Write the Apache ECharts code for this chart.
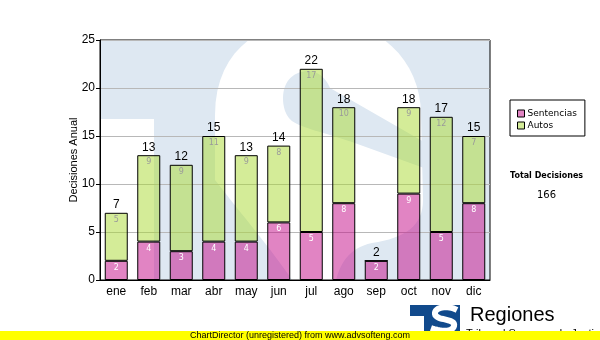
<!DOCTYPE html>
<html>
<head>
<meta charset="utf-8">
<title>Decisiones Anual</title>
<script src="https://cdn.jsdelivr.net/npm/echarts@6/dist/echarts.min.js"></script>
<style>
  html, body { margin: 0; padding: 0; background: #fff; }
  #chart { width: 600px; height: 340px; }
</style>
</head>
<body>
<div id="chart"></div>
<script>
// Monthly decisions, split by type
const categories = ['ene', 'feb', 'mar', 'abr', 'may', 'jun', 'jul', 'ago', 'sep', 'oct', 'nov', 'dic'];
const sentencias = [2, 4, 3, 4, 4, 6, 5, 8, 2, 9, 5, 8];
const autos = [5, 9, 9, 11, 9, 8, 17, 10, 0, 9, 12, 7];
const yMin = 0, yMax = 25, yStep = 5;

// Stack totals shown above each bar, and the grand total in the side panel
const totals = categories.map((_, i) => sentencias[i] + autos[i]);
const grandTotal = totals.reduce((a, b) => a + b, 0);

const SANS = 'Liberation Sans, Arial, sans-serif';
const SMALL = 'DejaVu Sans, Verdana, sans-serif';

const PLOT = { left: 100, top: 40, width: 390, height: 240 };
const WATER_BLUE = '#dee8f2';
const LOGO_BLUE = '#114a8c';

// Turn a list of M / L / C commands into polygon vertices (cubic curves sampled)
function outline(cmds) {
  const pts = [];
  let cx = 0, cy = 0;
  cmds.forEach(c => {
    if (c[0] === 'M' || c[0] === 'L') {
      cx = c[1]; cy = c[2]; pts.push([cx, cy]);
    } else if (c[0] === 'C') {
      const [, x1, y1, x2, y2, x, y] = c;
      for (let k = 1; k <= 16; k++) {
        const t = k / 16, u = 1 - t;
        pts.push([
          u * u * u * cx + 3 * u * u * t * x1 + 3 * u * t * t * x2 + t * t * t * x,
          u * u * u * cy + 3 * u * u * t * y1 + 3 * u * t * t * y2 + t * t * t * y
        ]);
      }
      cx = x; cy = y;
    }
  });
  return pts;
}

const emblemS = outline([
  ['M', 215, 115], ['C', 215, 45, 268, 19, 318, 19], ['C', 378, 19, 421, 60, 421, 115],
  ['L', 423, 200], ['C', 423, 226, 405, 238, 372, 243], ['C', 348, 248, 340, 265, 336, 280],
  ['L', 292, 280], ['C', 272, 250, 242, 215, 215, 180]
]);
const emblemCounter = outline([
  ['M', 283, 98], ['C', 283, 80, 295, 71, 308, 71], ['C', 318, 71, 326, 78, 330, 88],
  ['L', 424, 142], ['L', 424, 168], ['L', 352, 142], ['C', 322, 132, 302, 128, 292, 121],
  ['C', 286, 116, 283, 108, 283, 98]
]);
const logoS = outline([
  ['M', 457, 310], ['C', 448, 305, 434, 307, 435, 314], ['C', 436, 321, 456, 318, 454, 326],
  ['C', 452, 333, 439, 331, 431, 328]
]);

const chart = echarts.init(document.getElementById('chart'), null, { renderer: 'canvas' });

const option = {
  animation: false,
  backgroundColor: '#ffffff',
  grid: {
    left: PLOT.left, top: PLOT.top, width: PLOT.width, height: PLOT.height,
    show: true, borderColor: '#000', borderWidth: 1, backgroundColor: 'transparent'
  },
  legend: {
    data: ['Sentencias', 'Autos'],
    orient: 'vertical',
    left: 510, top: 100,
    padding: [9, 8, 6, 7],
    borderColor: '#000', borderWidth: 1,
    itemWidth: 7, itemHeight: 7, itemGap: 3,
    icon: 'rect',
    itemStyle: { borderColor: '#000', borderWidth: 1 },
    textStyle: { fontFamily: SMALL, fontSize: 9, color: '#000', padding: [0, 0, 0, -2] }
  },
  xAxis: {
    type: 'category',
    data: categories,
    axisLine: { lineStyle: { color: '#000', width: 1 } },
    axisTick: { alignWithLabel: true, length: 3, lineStyle: { color: '#000' } },
    axisLabel: { color: '#000', fontFamily: SANS, fontSize: 12, margin: 6 },
    splitLine: { show: false }
  },
  yAxis: {
    type: 'value',
    min: yMin, max: yMax, interval: yStep,
    name: 'Decisiones Anual',
    nameLocation: 'middle',
    nameGap: 21,
    nameMoveOverlap: false,
    nameTextStyle: { fontFamily: SANS, fontSize: 11, color: '#000' },
    axisLine: { show: true, lineStyle: { color: '#000', width: 1 } },
    axisTick: { show: true, length: 4, lineStyle: { color: '#000' } },
    axisLabel: { color: '#000', fontFamily: SANS, fontSize: 12, margin: 5 },
    splitLine: { show: true, lineStyle: { color: '#b8b8b8', width: 1 } }
  },
  series: [
    {
      name: 'Sentencias',
      type: 'bar',
      stack: 'decisiones',
      barWidth: 23,
      data: sentencias,
      itemStyle: { color: 'rgba(196,10,136,0.5)', borderColor: '#000', borderWidth: 1 },
      label: {
        show: true, position: 'insideTop', distance: 3,
        color: '#ffffff', fontFamily: SMALL, fontSize: 8,
        formatter: p => (p.value ? String(p.value) : '')
      },
      z: 2
    },
    {
      name: 'Autos',
      type: 'bar',
      stack: 'decisiones',
      barWidth: 23,
      data: autos,
      itemStyle: { color: 'rgba(169,217,49,0.5)', borderColor: '#000', borderWidth: 1 },
      label: {
        show: true, position: 'insideTop', distance: 3,
        color: '#9a9a9a', fontFamily: SMALL, fontSize: 8,
        formatter: p => (p.value ? String(p.value) : '')
      },
      z: 2
    },
    {
      // zero-height cap carrying the stack total
      name: 'Total',
      type: 'bar',
      stack: 'decisiones',
      barWidth: 23,
      data: categories.map(() => 0),
      itemStyle: { color: 'transparent', borderWidth: 0 },
      label: {
        show: true, position: 'top', distance: 2,
        color: '#000', fontFamily: SANS, fontSize: 12,
        formatter: p => String(totals[p.dataIndex])
      },
      z: 3
    }
  ],
  graphic: [
    // faint "TS" emblem behind the plot
    { type: 'rect', z: -3, silent: true,
      shape: { x: PLOT.left, y: PLOT.top, width: PLOT.width, height: PLOT.height },
      style: { fill: WATER_BLUE } },
    { type: 'rect', z: -2, silent: true,
      shape: { x: PLOT.left, y: 119, width: 54, height: PLOT.top + PLOT.height - 119 },
      style: { fill: '#ffffff' } },
    { type: 'polygon', z: -2, silent: true,
      shape: { points: emblemS }, style: { fill: '#ffffff' } },
    { type: 'polygon', z: -1, silent: true,
      shape: { points: emblemCounter }, style: { fill: WATER_BLUE } },

    // side panel with the grand total
    { type: 'text', z: 5, left: 510, top: 172,
      style: { text: 'Total Decisiones', fill: '#000', font: 'bold 8px ' + SMALL } },
    { type: 'text', z: 5, left: 537, top: 190,
      style: { text: String(grandTotal), fill: '#000', font: '10px ' + SMALL } },

    // footer logo
    { type: 'rect', z: 5, shape: { x: 410, y: 305, width: 50, height: 30 }, style: { fill: LOGO_BLUE } },
    { type: 'rect', z: 6, shape: { x: 410, y: 316, width: 14, height: 20 }, style: { fill: '#ffffff' } },
    { type: 'polyline', z: 6,
      shape: { points: logoS },
      style: { fill: null, stroke: '#ffffff', lineWidth: 6 } },
    { type: 'text', z: 6, left: 470, top: 305,
      style: { text: 'Regiones', fill: '#000', font: '20px ' + SANS } },
    { type: 'text', z: 6, left: 466, top: 328,
      style: { text: 'Tribunal Supremo de Justicia', fill: '#000', font: '11px ' + SANS } },

    // unregistered banner
    { type: 'rect', z: 8, shape: { x: 0, y: 331, width: 600, height: 9 }, style: { fill: '#ffff00' } },
    { type: 'text', z: 9, left: 190, top: 331,
      style: { text: 'ChartDirector (unregistered) from www.advsofteng.com', fill: '#000', font: '9px ' + SANS } }
  ]
};

chart.setOption(option);
</script>
</body>
</html>
